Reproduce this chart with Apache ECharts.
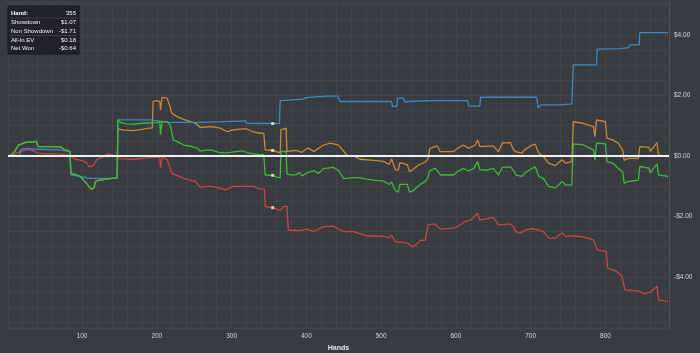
<!DOCTYPE html>
<html>
<head>
<meta charset="utf-8">
<script src="https://cdn.jsdelivr.net/npm/echarts@6/dist/echarts.min.js"></script>
<style>
html,body{margin:0;padding:0;background:#383b3f;}
#chart{width:700px;height:353px;}
</style>
</head>
<body>
<div id="chart"></div>
<script>
// hands played vs winnings ($)
var netWon = [
  [1,0],[5,0.03],[9,0.11],[15,0.36],[17,0.42],[25,0.45],[35,0.46],[39,0.49],[41,0.31],[60,0.31],[71,0.3],[76,0.22],[84,0.14],
  [85,-0.57],[92,-0.62],[98,-0.69],[104,-0.85],[109,-1.01],[113,-1.1],[116,-1.05],[118,-0.84],[125,-0.79],[133,-0.77],[140,-0.74],[147,-0.72],
  [148,1.19],[152,1.1],[160,1.06],[169,1.05],[180,1.08],[200,1.1],[204,1.14],[205,0.7],[207,1.14],[214,1.12],[218,1.02],
  [222,0.53],[230,0.44],[236,0.36],[245,0.32],[254,0.26],[258,0.16],[265,0.19],[272,0.2],[285,0.1],[295,0.1],[305,0.14],[315,0.17],
  [321,0.1],[330,0.07],[338,0.04],[343,0.04],[345,-0.63],[355,-0.64],[360,-0.7],[365,-0.72],[366,0.14],[373,0.15],[374,-0.6],
  [380,-0.63],[386,-0.62],[391,-0.55],[394,-0.66],[402,-0.55],[410,-0.49],[416,-0.58],[423,-0.42],[436,-0.38],[443,-0.48],[450,-0.75],
  [463,-0.72],[470,-0.72],[481,-0.77],[490,-0.8],[503,-0.83],[511,-0.94],[514,-0.86],[519,-1.15],[523,-1.2],[525,-0.94],[535,-0.94],
  [538,-1.2],[543,-1.15],[547,-1.05],[552,-0.95],[559,-0.84],[562,-0.74],[565,-0.49],[572,-0.41],[575,-0.47],[579,-0.63],[597,-0.63],
  [602,-0.52],[610,-0.41],[617,-0.5],[624,-0.41],[629,-0.19],[632,-0.45],[641,-0.47],[650,-0.41],[657,-0.63],[662,-0.38],[673,-0.36],
  [677,-0.48],[680,-0.63],[688,-0.68],[692,-0.57],[702,-0.41],[706,-0.36],[711,-0.68],[717,-0.74],[724,-1.01],[733,-1.06],[742,-0.85],
  [747,-0.96],[755,-0.96],[757,0.4],[770,0.37],[784,0.2],[786,-0.13],[788,0.42],[800,0.4],[802,-0.19],[810,-0.24],[817,-0.41],
  [823,-0.52],[825,-0.9],[830,-0.85],[844,-0.8],[846,-0.35],[858,-0.4],[860,-0.57],[863,-0.45],[869,-0.26],[871,-0.63],[884,-0.68]
];
var showdown = [
  [1,0],[17,0],[18,0.22],[28,0.25],[40,0.22],[70,0.2],[72,0.14],[84,0.14],[85,-0.63],[98,-0.68],[109,-0.74],[147,-0.74],
  [148,1.19],[190,1.19],[192,1.14],[218,1.11],[257,1.11],[258,1.16],[319,1.16],[320,1.08],[364,1.07],[365,1.83],[396,1.88],
  [400,1.93],[427,1.98],[442,1.98],[445,1.8],[514,1.8],[515,1.64],[521,1.64],[522,1.91],[530,1.91],[532,1.78],[536,1.8],
  [567,1.83],[616,1.83],[617,1.65],[632,1.65],[633,1.94],[708,1.94],[710,1.58],[714,1.69],[740,1.69],[755,1.72],
  [757,3.01],[788,3.01],[789,3.53],[820,3.55],[831,3.58],[833,3.67],[845,3.67],[846,4.08],[884,4.08]
];
var nonShowdown = [
  [1,0],[10,0.05],[17,0.14],[25,0.2],[32,0.2],[37,0.14],[40,0.1],[50,0.07],[71,0.07],[80,0.03],[85,0],[91,-0.11],[96,-0.13],
  [105,-0.2],[109,-0.35],[115,-0.33],[120,-0.11],[127,-0.05],[134,0.07],[145,0],[149,-0.09],[169,-0.11],[185,-0.07],[200,-0.04],
  [204,-0.05],[205,-0.4],[207,-0.04],[214,-0.13],[220,-0.57],[236,-0.74],[252,-0.85],[258,-1.04],[272,-1.0],[285,-1.07],[292,-1.12],
  [302,-1.01],[329,-1.01],[337,-1.09],[344,-1.1],[345,-1.68],[355,-1.71],[365,-1.81],[369,-1.68],[374,-1.66],[376,-2.45],[391,-2.47],
  [400,-2.42],[410,-2.5],[423,-2.34],[436,-2.32],[443,-2.42],[450,-2.5],[463,-2.5],[481,-2.64],[503,-2.66],[511,-2.7],[514,-2.62],
  [519,-2.83],[535,-2.88],[542,-3.0],[547,-2.94],[552,-2.8],[559,-2.78],[563,-2.28],[572,-2.25],[579,-2.42],[597,-2.39],[602,-2.34],
  [612,-2.17],[620,-2.12],[629,-1.89],[632,-2.12],[650,-2.03],[657,-2.28],[673,-2.25],[677,-2.34],[680,-2.5],[686,-2.55],[692,-2.46],
  [702,-2.4],[711,-2.45],[717,-2.5],[724,-2.72],[733,-2.72],[742,-2.54],[747,-2.67],[757,-2.64],[770,-2.68],[784,-2.78],[789,-3.11],
  [801,-3.16],[803,-3.71],[815,-3.82],[822,-3.97],[826,-4.43],[835,-4.45],[845,-4.47],[852,-4.56],[860,-4.5],[869,-4.32],[871,-4.76],[884,-4.82]
];
// all-in EV follows net won until the first all-in at hand 147
var allInEvAfter = [
  [148,0.9],[155,0.85],[169,0.84],[180,0.88],[190,0.92],[194,0.92],[195,1.8],[198,1.83],[204,1.8],[205,1.52],[207,1.94],[214,1.9],
  [218,1.6],[220,1.41],[227,1.3],[236,1.21],[252,1.08],[258,0.94],[272,0.97],[285,0.92],[294,0.8],[302,0.86],[320,0.9],[328,0.8],
  [338,0.75],[343,0.75],[345,0.2],[355,0.18],[365,0.1],[366,0.86],[373,0.92],[374,0.15],[386,0.18],[394,0.12],[402,0.26],[410,0.15],
  [423,0.36],[432,0.42],[443,0.36],[450,0.15],[455,0.0],[463,0.0],[472,-0.11],[490,-0.15],[503,-0.18],[511,-0.28],[514,-0.1],
  [519,-0.46],[523,-0.46],[525,-0.22],[535,-0.29],[538,-0.52],[543,-0.44],[550,-0.3],[559,-0.2],[563,-0.09],[565,0.25],[575,0.33],
  [579,0.14],[597,0.14],[602,0.25],[610,0.36],[617,0.25],[626,0.36],[629,0.53],[632,0.31],[650,0.33],[657,0.14],[662,0.42],[673,0.44],
  [677,0.2],[680,0.14],[688,0.09],[692,0.2],[702,0.36],[706,0.39],[711,0.09],[717,-0.02],[724,-0.24],[733,-0.32],[742,-0.13],
  [747,-0.24],[755,-0.19],[757,1.13],[770,1.08],[784,0.97],[786,0.64],[788,1.19],[800,1.13],[802,0.58],[810,0.53],[817,0.42],
  [823,0.2],[825,-0.15],[830,-0.08],[844,-0.08],[846,0.31],[858,0.28],[860,0.15],[863,0.25],[869,0.44],[871,0.03],[884,-0.02]
];
var allInEv = netWon.filter(function(p){ return p[0] <= 147; }).concat(allInEvAfter);

// hover box
var hoverHand = 355;
var tipNames = ['Showdown','Non Showdown','All-In EV','Net Won'];
var tipValues = [1.07,-1.71,0.18,-0.64];

var FONT = 'Liberation Sans';
var MAJOR = '#4b4e53', MINOR = '#414448', LABEL = '#d4d6d9';

function money(v){
    return (v < 0 ? '-$' : '$') + Math.abs(v).toFixed(2);
}

var tipFont = '6px "' + FONT + '"';
var tipChildren = [
    {type:'rect', z:100, shape:{x:8,y:6,width:71,height:48}, style:{fill:'#202225',stroke:'#18191b',lineWidth:1}},
    {type:'line', z:101, shape:{x1:10,y1:18,x2:77,y2:18}, style:{stroke:'#3a3c40',lineWidth:1}},
    {type:'line', z:101, shape:{x1:10,y1:35.5,x2:77,y2:35.5}, style:{stroke:'#3a3c40',lineWidth:1}},
    {type:'text', z:102, x:11, y:13.5, style:{text:'Hand:', fill:'#ffffff', font:'bold ' + tipFont, verticalAlign:'middle'}},
    {type:'text', z:102, x:76, y:13.5, style:{text:String(hoverHand), fill:'#ffffff', font:tipFont, align:'right', verticalAlign:'middle'}}
];
var rowY = [22.5, 31, 40, 48.5];
tipNames.forEach(function(n, i){
    tipChildren.push({type:'text', z:102, x:11, y:rowY[i], style:{text:n, fill:'#f4f4f4', font:tipFont, verticalAlign:'middle'}});
    tipChildren.push({type:'text', z:102, x:76, y:rowY[i], style:{text:money(tipValues[i]), fill:'#f4f4f4', font:tipFont, align:'right', verticalAlign:'middle'}});
});

function lineSeries(name, data, color){
    return {
        name:name, type:'line', data:data, showSymbol:false, symbol:'none',
        lineStyle:{color:color, width:1.3}, itemStyle:{color:color},
        xAxisIndex:0, yAxisIndex:0, animation:false
    };
}

var chart = echarts.init(document.getElementById('chart'));
var option = {
    backgroundColor:'#383b3f',
    animation:false,
    grid:{left:8, right:31, top:2, bottom:25, containLabel:false, outerBoundsMode:'none'},
    xAxis:[
        {
            type:'value', min:1, max:885, minInterval:100, maxInterval:100,
            axisLine:{show:true, lineStyle:{color:'#4f5257'}}, axisTick:{show:false},
            axisLabel:{color:LABEL, fontSize:6.5, fontFamily:FONT, margin:5, showMinLabel:false, showMaxLabel:false,
                formatter:function(v){ return v % 100 === 0 ? String(v) : ''; }},
            splitLine:{show:true, lineStyle:{color:MAJOR, width:1}},
            name:'Hands', nameLocation:'middle', nameGap:16,
            nameTextStyle:{color:'#e6e6e6', fontSize:7, fontWeight:'bold', fontFamily:FONT}
        },
        {
            type:'value', min:1, max:885, minInterval:20, maxInterval:20, position:'bottom',
            axisLine:{show:false}, axisTick:{show:false}, axisLabel:{show:false},
            splitLine:{show:true, lineStyle:{color:MINOR, width:1}}
        }
    ],
    yAxis:[
        {
            type:'value', position:'right', min:-5.69, max:5.09, minInterval:2, maxInterval:2,
            axisLine:{show:true, lineStyle:{color:'#4f5257'}}, axisTick:{show:false},
            axisLabel:{color:LABEL, fontSize:6.5, fontFamily:FONT, margin:5, showMinLabel:false, showMaxLabel:false,
                formatter:function(v){ return Math.abs(v % 2) < 1e-6 ? money(v) : ''; }},
            splitLine:{show:true, lineStyle:{color:MAJOR, width:1}},
            name:'Winnings', nameLocation:'middle', nameGap:26, nameRotate:-90,
            nameTextStyle:{color:'#e6e6e6', fontSize:7, fontWeight:'bold', fontFamily:FONT}
        },
        {
            type:'value', position:'right', min:-5.69, max:5.09, minInterval:0.5, maxInterval:0.5,
            axisLine:{show:false}, axisTick:{show:false}, axisLabel:{show:false},
            splitLine:{show:true, lineStyle:{color:MINOR, width:1}}
        }
    ],
    series:[
        lineSeries('All-In EV', allInEv, '#cf8636'),
        lineSeries('Non Showdown', nonShowdown, '#c84646'),
        lineSeries('Showdown', showdown, '#3a8bc4'),
        Object.assign(lineSeries('Net Won', netWon, '#3dbb3d'), {
            markLine:{
                silent:true, symbol:'none', label:{show:false},
                lineStyle:{color:'#f2f2f2', width:2, type:'solid'},
                data:[{yAxis:0}]
            }
        }),
        {
            type:'scatter', symbol:'rect', symbolSize:3, z:5, animation:false,
            itemStyle:{color:'#f4eed8'},
            data:tipValues.map(function(v){ return [hoverHand, v]; })
        }
    ],
    graphic:[{type:'group', children:tipChildren}]
};
chart.setOption(option);
</script>
</body>
</html>
